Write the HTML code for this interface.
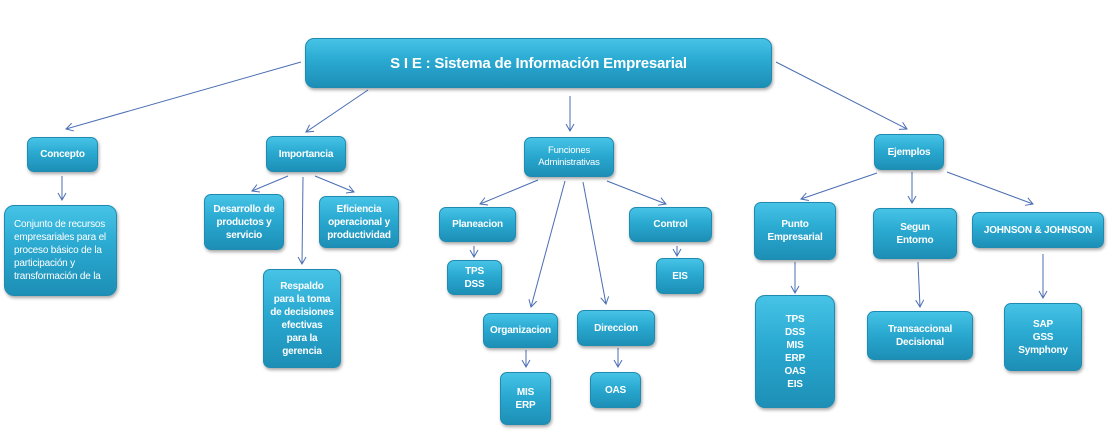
<!DOCTYPE html>
<html><head><meta charset="utf-8"><style>
body{margin:0;width:1108px;height:431px;background:#fff;position:relative;overflow:hidden;font-family:"Liberation Sans",sans-serif}
.b{position:absolute;box-sizing:border-box;border-radius:7px;background:linear-gradient(#46c3e6 0%,#2aa9d1 45%,#1d8fb6 100%);border:1px solid #1f8bb0;box-shadow:1px 2px 3px rgba(0,0,0,.35);color:#fff;font-weight:bold;font-size:10px;line-height:13px;display:flex;align-items:center;justify-content:center;text-align:center;letter-spacing:-.2px}
svg{position:absolute;left:0;top:0}
</style></head><body>
<svg width="1108" height="431"><defs><marker id="a" markerWidth="10" markerHeight="10" refX="8" refY="5" orient="auto" markerUnits="userSpaceOnUse"><path d="M1,1 L8,5 L1,9" fill="none" stroke="#4a6eb3" stroke-width="1"/></marker></defs>
<g stroke="#4a6eb3" stroke-width="1" fill="none" marker-end="url(#a)">
<line x1="301" y1="62" x2="66" y2="129"/>
<line x1="368" y1="90" x2="306" y2="132"/>
<line x1="570" y1="96" x2="570" y2="131"/>
<line x1="776" y1="62" x2="907" y2="129"/>
<line x1="62" y1="176" x2="62" y2="200"/>
<line x1="288" y1="176" x2="252" y2="191"/>
<line x1="303" y1="177" x2="302" y2="264"/>
<line x1="315" y1="176" x2="354" y2="192"/>
<line x1="538" y1="180" x2="480" y2="204"/>
<line x1="565" y1="181" x2="531" y2="307"/>
<line x1="583" y1="182" x2="606" y2="304"/>
<line x1="607" y1="181" x2="666" y2="204"/>
<line x1="474" y1="246" x2="474" y2="257"/>
<line x1="677" y1="246" x2="677" y2="256"/>
<line x1="526" y1="350" x2="526" y2="367"/>
<line x1="618" y1="348" x2="618" y2="367"/>
<line x1="877" y1="173" x2="801" y2="199"/>
<line x1="912" y1="172" x2="912" y2="203"/>
<line x1="947" y1="172" x2="1033" y2="204"/>
<line x1="795" y1="262" x2="795" y2="293"/>
<line x1="918" y1="262" x2="920" y2="307"/>
<line x1="1043" y1="254" x2="1043" y2="298"/>
</g></svg>
<div class="b" style="left:305px;top:38px;width:467px;height:50px;font-size:15px;border-radius:9px">S I E : Sistema de Información Empresarial</div>
<div class="b" style="left:27px;top:137px;width:71px;height:35px">Concepto</div>
<div class="b" style="left:4px;top:205px;width:113px;height:91px;font-weight:normal;justify-content:flex-start;text-align:left;padding-left:9px;font-size:10px;border-radius:10px">Conjunto de recursos empresariales para el proceso básico de la participación y transformación de la</div>
<div class="b" style="left:266px;top:136px;width:80px;height:36px">Importancia</div>
<div class="b" style="left:204px;top:194px;width:80px;height:56px">Desarrollo de productos y servicio</div>
<div class="b" style="left:319px;top:196px;width:80px;height:52px">Eficiencia operacional y productividad</div>
<div class="b" style="left:263px;top:269px;width:78px;height:99px">Respaldo<br>para la toma<br>de decisiones<br>efectivas<br>para la<br>gerencia</div>
<div class="b" style="left:524px;top:137px;width:90px;height:40px;font-weight:normal;font-size:9.5px;line-height:12px">Funciones<br>Administrativas</div>
<div class="b" style="left:439px;top:207px;width:77px;height:35px">Planeacion</div>
<div class="b" style="left:447px;top:260px;width:55px;height:35px">TPS<br>DSS</div>
<div class="b" style="left:483px;top:313px;width:75px;height:35px">Organizacion</div>
<div class="b" style="left:500px;top:372px;width:51px;height:53px">MIS<br>ERP</div>
<div class="b" style="left:577px;top:310px;width:78px;height:36px">Direccion</div>
<div class="b" style="left:590px;top:372px;width:51px;height:36px">OAS</div>
<div class="b" style="left:629px;top:207px;width:83px;height:35px">Control</div>
<div class="b" style="left:656px;top:258px;width:48px;height:36px">EIS</div>
<div class="b" style="left:874px;top:134px;width:70px;height:36px">Ejemplos</div>
<div class="b" style="left:754px;top:202px;width:82px;height:58px">Punto<br>Empresarial</div>
<div class="b" style="left:755px;top:295px;width:80px;height:113px;border-radius:10px">TPS<br>DSS<br>MIS<br>ERP<br>OAS<br>EIS</div>
<div class="b" style="left:873px;top:208px;width:84px;height:51px">Segun<br>Entorno</div>
<div class="b" style="left:867px;top:311px;width:106px;height:49px">Transaccional<br>Decisional</div>
<div class="b" style="left:972px;top:212px;width:132px;height:36px">JOHNSON &amp; JOHNSON</div>
<div class="b" style="left:1004px;top:303px;width:78px;height:68px">SAP<br>GSS<br>Symphony</div>
</body></html>
